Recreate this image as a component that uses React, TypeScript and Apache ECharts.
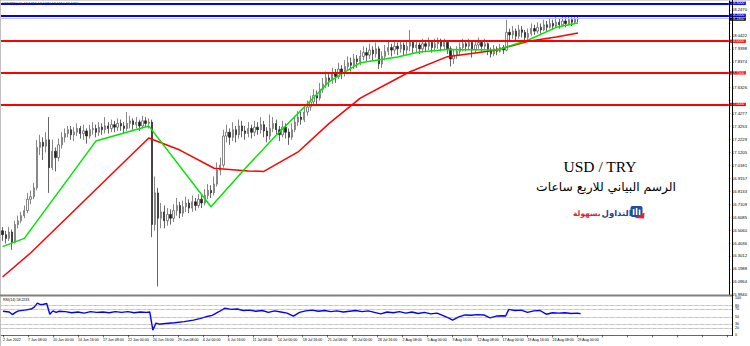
import React, { useEffect, useRef } from 'react';
import * as echarts from 'echarts';

// ---------- data ----------
const xLabels = [
  '2 Jun 2022', '7 Jun 08:00', '10 Jun 00:00', '14 Jun 16:00', '17 Jun 08:00', '22 Jun 00:00',
  '24 Jun 16:00', '29 Jun 08:00', '4 Jul 00:00', '6 Jul 16:00', '11 Jul 08:00', '14 Jul 00:00',
  '18 Jul 16:00', '21 Jul 08:00', '26 Jul 00:00', '28 Jul 16:00', '2 Aug 08:00', '5 Aug 00:00',
  '9 Aug 16:00', '12 Aug 08:00', '17 Aug 00:00', '19 Aug 16:00', '24 Aug 08:00', '29 Aug 00:00',
];
const CAT_COUNT = 234;
const LABEL_STEP = 8;

const priceTickStart = 15.994;
const priceTickStep = 0.10241;
const priceTop = 18.3261;

// [open, close, low, high]
const ohlc: number[][] = [
  [16.50,16.47,16.42,16.53],[16.47,16.44,16.40,16.50],[16.44,16.49,16.42,16.53],[16.49,16.41,16.35,16.51],[16.41,16.55,16.40,16.58],
  [16.55,16.58,16.52,16.62],[16.58,16.62,16.56,16.65],[16.62,16.66,16.60,16.70],[16.66,16.75,16.64,16.80],[16.75,16.77,16.71,16.82],
  [16.77,16.84,16.75,16.88],[16.84,17.16,16.82,17.22],[17.16,17.20,17.10,17.26],[17.20,17.17,17.06,17.24],[17.17,17.22,17.12,17.28],
  [17.22,17.00,16.80,17.40],[17.00,17.13,16.98,17.22],[17.13,17.08,16.97,17.16],[17.08,17.18,17.05,17.23],[17.18,17.24,17.15,17.28],
  [17.24,17.27,17.20,17.31],[17.27,17.30,17.24,17.33],[17.30,17.26,17.22,17.33],[17.26,17.28,17.21,17.32],[17.28,17.31,17.25,17.35],
  [17.31,17.27,17.23,17.33],[17.27,17.29,17.22,17.34],[17.29,17.25,17.19,17.31],[17.25,17.30,17.23,17.34],[17.30,17.31,17.26,17.36],
  [17.31,17.28,17.24,17.34],[17.28,17.32,17.25,17.36],[17.32,17.30,17.26,17.35],[17.30,17.33,17.27,17.40],[17.33,17.31,17.27,17.36],
  [17.31,17.34,17.28,17.38],[17.34,17.32,17.28,17.37],[17.32,17.35,17.29,17.39],[17.35,17.33,17.29,17.38],[17.33,17.31,17.27,17.36],
  [17.31,17.35,17.29,17.44],[17.35,17.37,17.31,17.41],[17.37,17.34,17.30,17.39],[17.34,17.36,17.31,17.40],[17.36,17.33,17.29,17.38],
  [17.33,17.37,17.31,17.41],[17.37,17.35,17.32,17.40],[17.35,17.36,17.31,17.39],[17.36,16.55,16.45,17.38],[16.55,16.80,16.50,16.93],
  [16.80,16.60,16.06,16.84],[16.60,16.65,16.52,16.72],[16.65,16.58,16.52,16.70],[16.58,16.63,16.54,16.68],[16.63,16.60,16.55,16.67],
  [16.60,16.66,16.57,16.71],[16.66,16.70,16.62,16.76],[16.70,16.64,16.60,16.73],[16.64,16.69,16.61,16.74],[16.69,16.72,16.65,16.77],
  [16.72,16.68,16.64,16.75],[16.68,16.73,16.65,16.78],[16.73,16.70,16.66,16.76],[16.70,16.75,16.68,16.79],[16.75,16.72,16.68,16.78],
  [16.72,16.78,16.70,16.83],[16.78,16.82,16.75,16.87],[16.82,16.80,16.76,16.86],[16.80,16.87,16.78,16.93],[16.87,16.98,16.85,17.04],
  [16.98,17.02,16.94,17.08],[17.02,17.25,17.00,17.30],[17.25,17.28,17.20,17.34],[17.28,17.24,17.18,17.31],[17.24,17.30,17.21,17.36],
  [17.30,17.26,17.20,17.33],[17.26,17.33,17.23,17.38],[17.33,17.29,17.24,17.37],[17.29,17.27,17.22,17.33],[17.27,17.31,17.24,17.36],
  [17.31,17.28,17.23,17.34],[17.28,17.32,17.25,17.37],[17.32,17.30,17.26,17.36],[17.30,17.34,17.27,17.40],[17.34,17.29,17.24,17.37],
  [17.29,17.25,17.20,17.32],[17.25,17.31,17.22,17.42],[17.31,17.35,17.28,17.40],[17.35,17.30,17.26,17.38],[17.30,17.26,17.21,17.33],
  [17.26,17.32,17.24,17.37],[17.32,17.28,17.23,17.35],[17.28,17.24,17.18,17.31],[17.24,17.30,17.22,17.35],[17.30,17.36,17.28,17.41],
  [17.36,17.40,17.33,17.45],[17.40,17.38,17.34,17.44],[17.38,17.44,17.36,17.49],[17.44,17.48,17.41,17.53],[17.48,17.52,17.45,17.57],
  [17.52,17.57,17.49,17.62],[17.57,17.55,17.50,17.61],[17.55,17.62,17.53,17.67],[17.62,17.66,17.59,17.71],[17.66,17.71,17.63,17.76],
  [17.71,17.69,17.64,17.74],[17.69,17.74,17.66,17.79],[17.74,17.72,17.67,17.78],[17.72,17.78,17.70,17.83],[17.78,17.75,17.70,17.81],
  [17.75,17.80,17.72,17.85],[17.80,17.83,17.77,17.88],[17.83,17.81,17.76,17.87],[17.81,17.86,17.78,17.90],[17.86,17.84,17.79,17.89],
  [17.84,17.88,17.81,17.93],[17.88,17.91,17.85,17.96],[17.91,17.89,17.84,17.95],[17.89,17.93,17.86,17.98],[17.93,17.90,17.85,17.96],
  [17.90,17.94,17.87,17.99],[17.94,17.82,17.78,17.96],[17.82,17.88,17.79,17.92],[17.88,17.92,17.85,17.97],[17.92,17.95,17.89,18.00],
  [17.95,17.93,17.88,17.98],[17.93,17.96,17.90,18.01],[17.96,17.94,17.89,17.99],[17.94,17.97,17.91,18.01],[17.97,17.93,17.89,17.99],
  [17.93,17.96,17.90,18.00],[17.96,17.99,17.92,18.09],[17.99,17.95,17.90,18.01],[17.95,17.97,17.91,18.01],[17.97,17.94,17.90,17.99],
  [17.94,17.98,17.91,18.02],[17.98,17.96,17.92,18.01],[17.96,17.99,17.93,18.03],[17.99,17.95,17.91,18.01],[17.95,17.98,17.92,18.02],
  [17.98,18.00,17.94,18.03],[18.00,17.96,17.92,18.02],[17.96,17.99,17.93,18.02],[17.99,17.94,17.90,18.01],[17.94,17.86,17.80,17.96],
  [17.86,17.89,17.82,17.93],[17.89,17.92,17.86,17.96],[17.92,17.95,17.89,17.99],[17.95,17.98,17.92,18.02],[17.98,17.96,17.92,18.01],
  [17.96,17.99,17.93,18.02],[17.99,17.93,17.87,18.00],[17.93,17.97,17.91,18.00],[17.97,17.99,17.94,18.03],[17.99,17.96,17.92,18.01],
  [17.96,17.98,17.93,18.02],[17.98,17.93,17.89,17.99],[17.93,17.90,17.87,17.95],[17.90,17.94,17.88,17.97],[17.94,17.92,17.89,17.96],
  [17.92,17.95,17.91,17.98],[17.95,17.93,17.90,17.97],[17.93,18.07,17.92,18.17],[18.07,18.05,18.01,18.10],[18.05,18.08,18.02,18.12],
  [18.08,18.04,18.00,18.10],[18.04,18.09,18.02,18.13],[18.09,18.07,18.03,18.12],[18.07,18.03,17.99,18.09],[18.03,18.06,18.01,18.10],
  [18.06,18.10,18.04,18.14],[18.10,18.08,18.05,18.13],[18.08,18.11,18.06,18.15],[18.11,18.09,18.06,18.14],[18.09,18.13,18.08,18.17],
  [18.13,18.11,18.08,18.16],[18.11,18.14,18.10,18.18],[18.14,18.12,18.09,18.17],[18.12,18.15,18.11,18.19],[18.15,18.13,18.10,18.18],
  [18.13,18.16,18.12,18.20],[18.16,18.14,18.11,18.19],[18.14,18.17,18.13,18.20],[18.17,18.15,18.12,18.19],[18.15,18.18,18.14,18.20],
  [18.18,18.176,18.15,18.19],
];

// moving averages: [bar index, value]
const maFast: number[][] = [
  [0,16.375],[7,16.44],[30,17.21],[47,17.33],[67,16.69],[79,17.02],[87,17.23],[95,17.43],[105,17.68],
  [115,17.83],[127,17.875],[134,17.915],[143,17.935],[159,17.93],[169,18.01],[178,18.11],[185,18.144],
];
const maSlow: number[][] = [
  [0,16.135],[9,16.325],[47,17.234],[57,17.139],[68,16.995],[79,16.974],[84,16.97],[95,17.124],[105,17.35],
  [115,17.55],[127,17.707],[131,17.759],[143,17.878],[159,17.931],[169,18.0],[178,18.033],[185,18.065],
];

const blueLevels = [18.30, 18.20];
const redLevels = [18.00, 17.75, 17.50];
const lastPrice = 18.176;

// RSI(14): [bar index, value]
const rsiPts: number[][] = [
  [0,65],[2,63],[3,56],[4,62],[5,66],[7,68],[9,71],[10,76],[11,87],[12,83],[13,84],[14,86],[15,57],[16,66],
  [17,62],[18,65],[20,64],[22,61],[24,63],[26,60],[28,64],[30,62],[32,63],[34,61],[36,64],[38,62],[40,64],
  [42,61],[44,63],[46,62],[47,63],[48,14],[49,33],[50,30],[52,32],[55,34],[58,37],[61,41],[63,45],[65,50],
  [67,54],[69,63],[71,73],[73,70],[75,71],[77,67],[79,68],[81,65],[83,67],[85,62],[87,66],[89,63],[91,60],
  [93,52],[95,62],[97,66],[99,68],[101,65],[103,67],[105,64],[107,66],[109,63],[111,65],[113,67],[115,64],
  [117,66],[119,62],[121,58],[123,63],[125,61],[127,64],[129,60],[131,63],[133,59],[135,62],[137,58],[139,60],
  [141,53],[143,46],[144,41],[146,50],[148,55],[150,54],[152,56],[154,55],[156,47],[158,52],[160,53],[161,52],
  [162,70],[164,67],[166,68],[168,62],[170,66],[172,67],[174,57],[176,61],[178,60],[180,61],[182,59],[184,60],[185,58.2],
];
const rsiLevels = [80, 70, 50, 30, 20];
const rsiAxisLabels = [100, 80, 70, 50, 30, 20, 0];

const headerText = 'USDTRY,H4  18.1715 18.1770 18.1650 18.1760';
const rsiText = 'RSI(14) 58.2233';
const titleText = 'USD / TRY';
const subtitleText = 'الرسم البياني للاربع ساعات';
const logoRed = 'بسهولة';
const logoBlue = 'التداول';

// ---------- chart ----------
const categories = Array.from({ length: CAT_COUNT }, (_, i) => String(i));
const AX_FONT = 'Liberation Sans, Arial, sans-serif';
const allLevels = [lastPrice, ...blueLevels, ...redLevels];

function levelLine(v: number, color: string, width: number, labelBg: string, dy = 0) {
  return {
    yAxis: v,
    lineStyle: { color, width, type: 'solid' },
    label: {
      show: true,
      position: 'end',
      distance: 1,
      offset: [0, dy],
      formatter: (p: any) => Number(p.value).toFixed(4),
      color: '#ffffff',
      backgroundColor: labelBg,
      fontSize: 3.6,
      lineHeight: 3.3,
      fontFamily: AX_FONT,
      padding: [0, 1.5, 0, 1.5],
    },
  };
}

export default function App() {
  const ref = useRef<HTMLDivElement>(null);
  useEffect(() => {
    if (!ref.current) return;
    const chart = echarts.init(ref.current, undefined, { renderer: 'svg' });
    const option: any = {
      animation: false,
      backgroundColor: '#ffffff',
      grid: [
        { left: 1, top: 0, width: 731, height: 294.8 },
        { left: 1, top: 298.3, width: 731, height: 37 },
      ],
      xAxis: [
        {
          type: 'category', gridIndex: 0, data: categories, boundaryGap: true,
          axisLine: { show: false }, axisTick: { show: false }, axisLabel: { show: false }, splitLine: { show: false },
        },
        {
          type: 'category', gridIndex: 1, data: categories, boundaryGap: true,
          axisLine: { show: true, lineStyle: { color: '#666', width: 1 } },
          axisTick: { show: true, alignWithLabel: true, length: 2, interval: (i: number) => i % LABEL_STEP === 0, lineStyle: { color: '#000', width: 0.6 } },
          axisLabel: {
            interval: 0, align: 'left', margin: 2.5, fontSize: 3.6, color: '#000', fontFamily: AX_FONT,
            formatter: (_v: string, i: number) => (i % LABEL_STEP === 0 && xLabels[i / LABEL_STEP]) ? xLabels[i / LABEL_STEP] : '',
          },
          splitLine: { show: false },
        },
      ],
      yAxis: [
        {
          type: 'value', gridIndex: 0, position: 'right',
          min: priceTickStart, max: priceTop, interval: priceTickStep,
          axisLine: { show: true, lineStyle: { color: '#000', width: 1 } },
          axisTick: { show: true, length: 1.5, lineStyle: { color: '#000', width: 0.6 } },
          axisLabel: {
            fontSize: 4.2, color: '#000', margin: 3, fontFamily: AX_FONT, showMaxLabel: false,
            formatter: (v: number) => (allLevels.some((l) => Math.abs(l - v) < 0.033) ? '' : v.toFixed(4)),
          },
          splitLine: { show: false },
        },
        {
          type: 'value', gridIndex: 1, position: 'right', min: 0, max: 100, interval: 10,
          axisLine: { show: true, lineStyle: { color: '#000', width: 1 } },
          axisTick: { show: false },
          axisLabel: {
            fontSize: 3.6, color: '#000', margin: 3, fontFamily: AX_FONT,
            formatter: (v: number) => (rsiAxisLabels.indexOf(Math.round(v)) >= 0 ? String(Math.round(v)) : ''),
          },
          splitLine: { show: false },
        },
      ],
      series: [
        {
          type: 'candlestick', xAxisIndex: 0, yAxisIndex: 0, data: ohlc, barWidth: 1.8,
          itemStyle: { color: '#ffffff', color0: '#222222', borderColor: '#555555', borderColor0: '#222222', borderWidth: 0.7 },
          markLine: {
            silent: true, symbol: ['none', 'none'], animation: false,
            data: [
              levelLine(lastPrice, '#c8c8c8', 1, '#000000', 0.6),
              levelLine(blueLevels[0], '#0000ff', 1.8, '#0000ff'),
              levelLine(blueLevels[1], '#0000ff', 1.8, '#0000ff', -0.6),
              ...redLevels.map((v) => levelLine(v, '#ff0000', 2, '#ff0000')),
            ],
          },
        },
        {
          type: 'line', xAxisIndex: 0, yAxisIndex: 0, data: maSlow, showSymbol: false, symbol: 'none',
          lineStyle: { color: '#ff0000', width: 1.5 }, z: 3,
        },
        {
          type: 'line', xAxisIndex: 0, yAxisIndex: 0, data: maFast, showSymbol: false, symbol: 'none',
          lineStyle: { color: '#00e600', width: 1.5 }, z: 3,
        },
        {
          type: 'line', xAxisIndex: 1, yAxisIndex: 1, data: rsiPts, showSymbol: false, symbol: 'none',
          lineStyle: { color: '#0000ff', width: 1.4 },
          markLine: {
            silent: true, symbol: ['none', 'none'], animation: false, label: { show: false },
            data: rsiLevels.map((v) => ({ yAxis: v, lineStyle: { color: '#555', width: 0.6, type: 'dotted' } })),
          },
        },
      ],
      graphic: [
        { type: 'rect', shape: { x: 0, y: 0, width: 750, height: 0.8 }, style: { fill: '#c8c8c8' }, z: 10 },
        { type: 'rect', shape: { x: 0, y: 0, width: 0.8, height: 346 }, style: { fill: '#b0b0b0' }, z: 10 },
        { type: 'rect', shape: { x: 0, y: 294.6, width: 732, height: 1.8 }, style: { fill: '#808080' }, z: 10 },
        { type: 'line', shape: { x1: 732.5, y1: 0, x2: 732.5, y2: 336 }, style: { stroke: '#000', lineWidth: 1 }, z: 10 },
        {
          type: 'text', x: 2, y: 3.6,
          style: { text: headerText, fontSize: 3.6, fill: '#333', fontFamily: AX_FONT, verticalAlign: 'middle' }, z: 10,
        },
        {
          type: 'text', x: 3, y: 300,
          style: { text: rsiText, fontSize: 3.6, fill: '#000', fontFamily: AX_FONT, verticalAlign: 'middle' }, z: 10,
        },
        {
          type: 'text', x: 600, y: 166,
          style: { text: titleText, fontSize: 15.5, fill: '#000', fontFamily: 'Liberation Serif, serif', align: 'center', verticalAlign: 'middle' }, z: 10,
        },
        {
          type: 'text', x: 606, y: 187,
          style: { text: subtitleText, fontSize: 12.3, fill: '#000', fontFamily: 'DejaVu Sans, sans-serif', align: 'center', verticalAlign: 'middle' }, z: 10,
        },
        {
          type: 'text', x: 600.5, y: 213,
          style: { text: logoRed, fontSize: 7.5, fontWeight: 'bold', fill: '#e8202a', fontFamily: 'DejaVu Sans, sans-serif', align: 'right', verticalAlign: 'middle' }, z: 10,
        },
        {
          type: 'text', x: 601.5, y: 213,
          style: { text: logoBlue, fontSize: 8.5, fontWeight: 'bold', fill: '#1f3f8f', fontFamily: 'DejaVu Sans, sans-serif', align: 'left', verticalAlign: 'middle' }, z: 10,
        },
        { type: 'rect', shape: { x: 630.5, y: 206, width: 12, height: 11, r: 2 }, style: { fill: '#1f4e9c' }, z: 10 },
        { type: 'rect', shape: { x: 632.8, y: 209, width: 1.6, height: 6 }, style: { fill: '#ffffff' }, z: 11 },
        { type: 'rect', shape: { x: 635.8, y: 208, width: 1.6, height: 7 }, style: { fill: '#ffffff' }, z: 11 },
        { type: 'rect', shape: { x: 638.8, y: 209.5, width: 1.6, height: 5.5 }, style: { fill: '#ffffff' }, z: 11 },
        { type: 'polygon', shape: { points: [[634.5, 218], [644.5, 212.5], [644, 218.5]] }, style: { fill: '#e8202a' }, z: 11 },
      ],
    };
    chart.setOption(option);
    return () => chart.dispose();
  }, []);
  return (
    <div
      ref={ref}
      style={{ position: 'fixed', left: 0, top: 0, width: 750, height: 346, background: '#fff' }}
    />
  );
}
